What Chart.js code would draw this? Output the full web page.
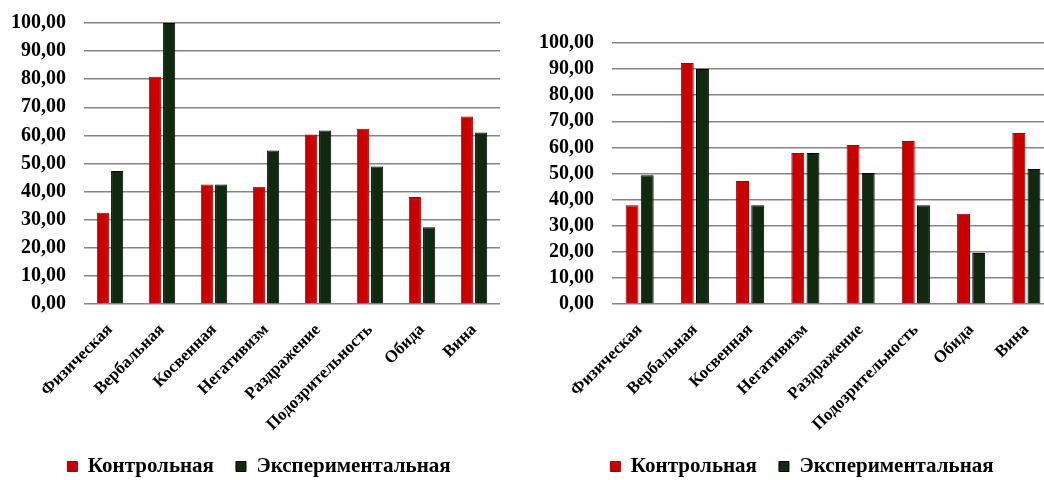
<!DOCTYPE html>
<html>
<head>
<meta charset="utf-8">
<script src="https://cdn.jsdelivr.net/npm/chart.js@4.4.1/dist/chart.umd.min.js"></script>
<style>
html,body{margin:0;padding:0;background:#fff;overflow:hidden;width:1044px;height:480px;}
canvas{position:absolute;top:0;}
#c1{left:0;}
#c2{left:520px;}
</style>
</head>
<body>
<canvas id="c1" width="520" height="480"></canvas>
<canvas id="c2" width="534" height="480"></canvas>
<script>
const categories = ['Физическая','Вербальная','Косвенная','Негативизм','Раздражение','Подозрительность','Обида','Вина'];
const seriesNames = ['Контрольная','Экспериментальная'];
const leftControl = [32.5, 80.9, 42.5, 41.7, 60.3, 62.4, 38.1, 66.7];
const leftExperimental = [47.3, 100.0, 42.5, 54.6, 61.7, 48.9, 27.3, 61.0];
const rightControl = [37.8, 92.3, 47.1, 57.9, 60.9, 62.5, 34.6, 65.5];
const rightExperimental = [49.3, 90.0, 37.8, 57.9, 50.2, 37.8, 19.5, 51.7];
const yTickLabels = ['0,00','10,00','20,00','30,00','40,00','50,00','60,00','70,00','80,00','90,00','100,00'];

const RED = '#c80000';
const GREEN = '#0f2a0e';
const FONT = '"Liberation Serif", "Times New Roman", serif';

function makeChart(id, control, experimental, cfg) {
  const legendPlugin = {
    id: 'legendTweak',
    beforeInit(chart) {
      const origFit = chart.legend.fit;
      chart.legend.fit = function () {
        origFit.call(this);
        this.height = cfg.legendHeight;
      };
    },
    afterLayout(chart) {
      chart.legend.left += cfg.legendShift;
      chart.legend.right += cfg.legendShift;
    }
  };
  return new Chart(document.getElementById(id), {
    type: 'bar',
    data: {
      labels: categories,
      datasets: [
        { label: seriesNames[0], data: control, backgroundColor: RED, borderColor: '#a00000', borderWidth: 1,
          categoryPercentage: 0.55, barPercentage: 0.85 },
        { label: seriesNames[1], data: experimental, backgroundColor: GREEN, borderColor: '#000000', borderWidth: 1,
          categoryPercentage: 0.55, barPercentage: 0.85 }
      ]
    },
    options: {
      responsive: false,
      animation: false,
      devicePixelRatio: 1,
      layout: { padding: { top: cfg.top, left: 0, right: cfg.right, bottom: 0 } },
      plugins: {
        legend: {
          position: 'bottom',
          labels: {
            boxWidth: 10, boxHeight: 10, padding: 22, color: '#000',
            font: { family: FONT, size: 21, weight: 'bold' }
          }
        },
        tooltip: { enabled: false }
      },
      scales: {
        x: {
          grid: { display: false },
          border: { display: false },
          ticks: {
            color: '#000', minRotation: 45, maxRotation: 45, padding: 8,
            font: { family: FONT, size: 17, weight: 'bold' }
          },
          afterFit(scale) { scale.height = cfg.xHeight; }
        },
        y: {
          min: 0, max: 100,
          border: { display: false },
          grid: { color: '#858585', lineWidth: 1.5, drawTicks: true, tickLength: 16, tickColor: 'rgba(0,0,0,0)' },
          ticks: {
            stepSize: 10, padding: 2, color: '#000', autoSkip: false,
            font: { family: FONT, size: 20, weight: 'bold' },
            callback: (v, i) => yTickLabels[i]
          },
          afterFit(scale) { scale.width = cfg.yWidth; }
        }
      }
    },
    plugins: [legendPlugin]
  });
}

makeChart('c1', leftControl, leftExperimental, { top: 23, right: 20, yWidth: 84, xHeight: 130, legendHeight: 46, legendShift: 9 });
makeChart('c2', rightControl, rightExperimental, { top: 43, right: 0, yWidth: 92, xHeight: 130, legendHeight: 46, legendShift: 15 });
</script>
</body>
</html>
